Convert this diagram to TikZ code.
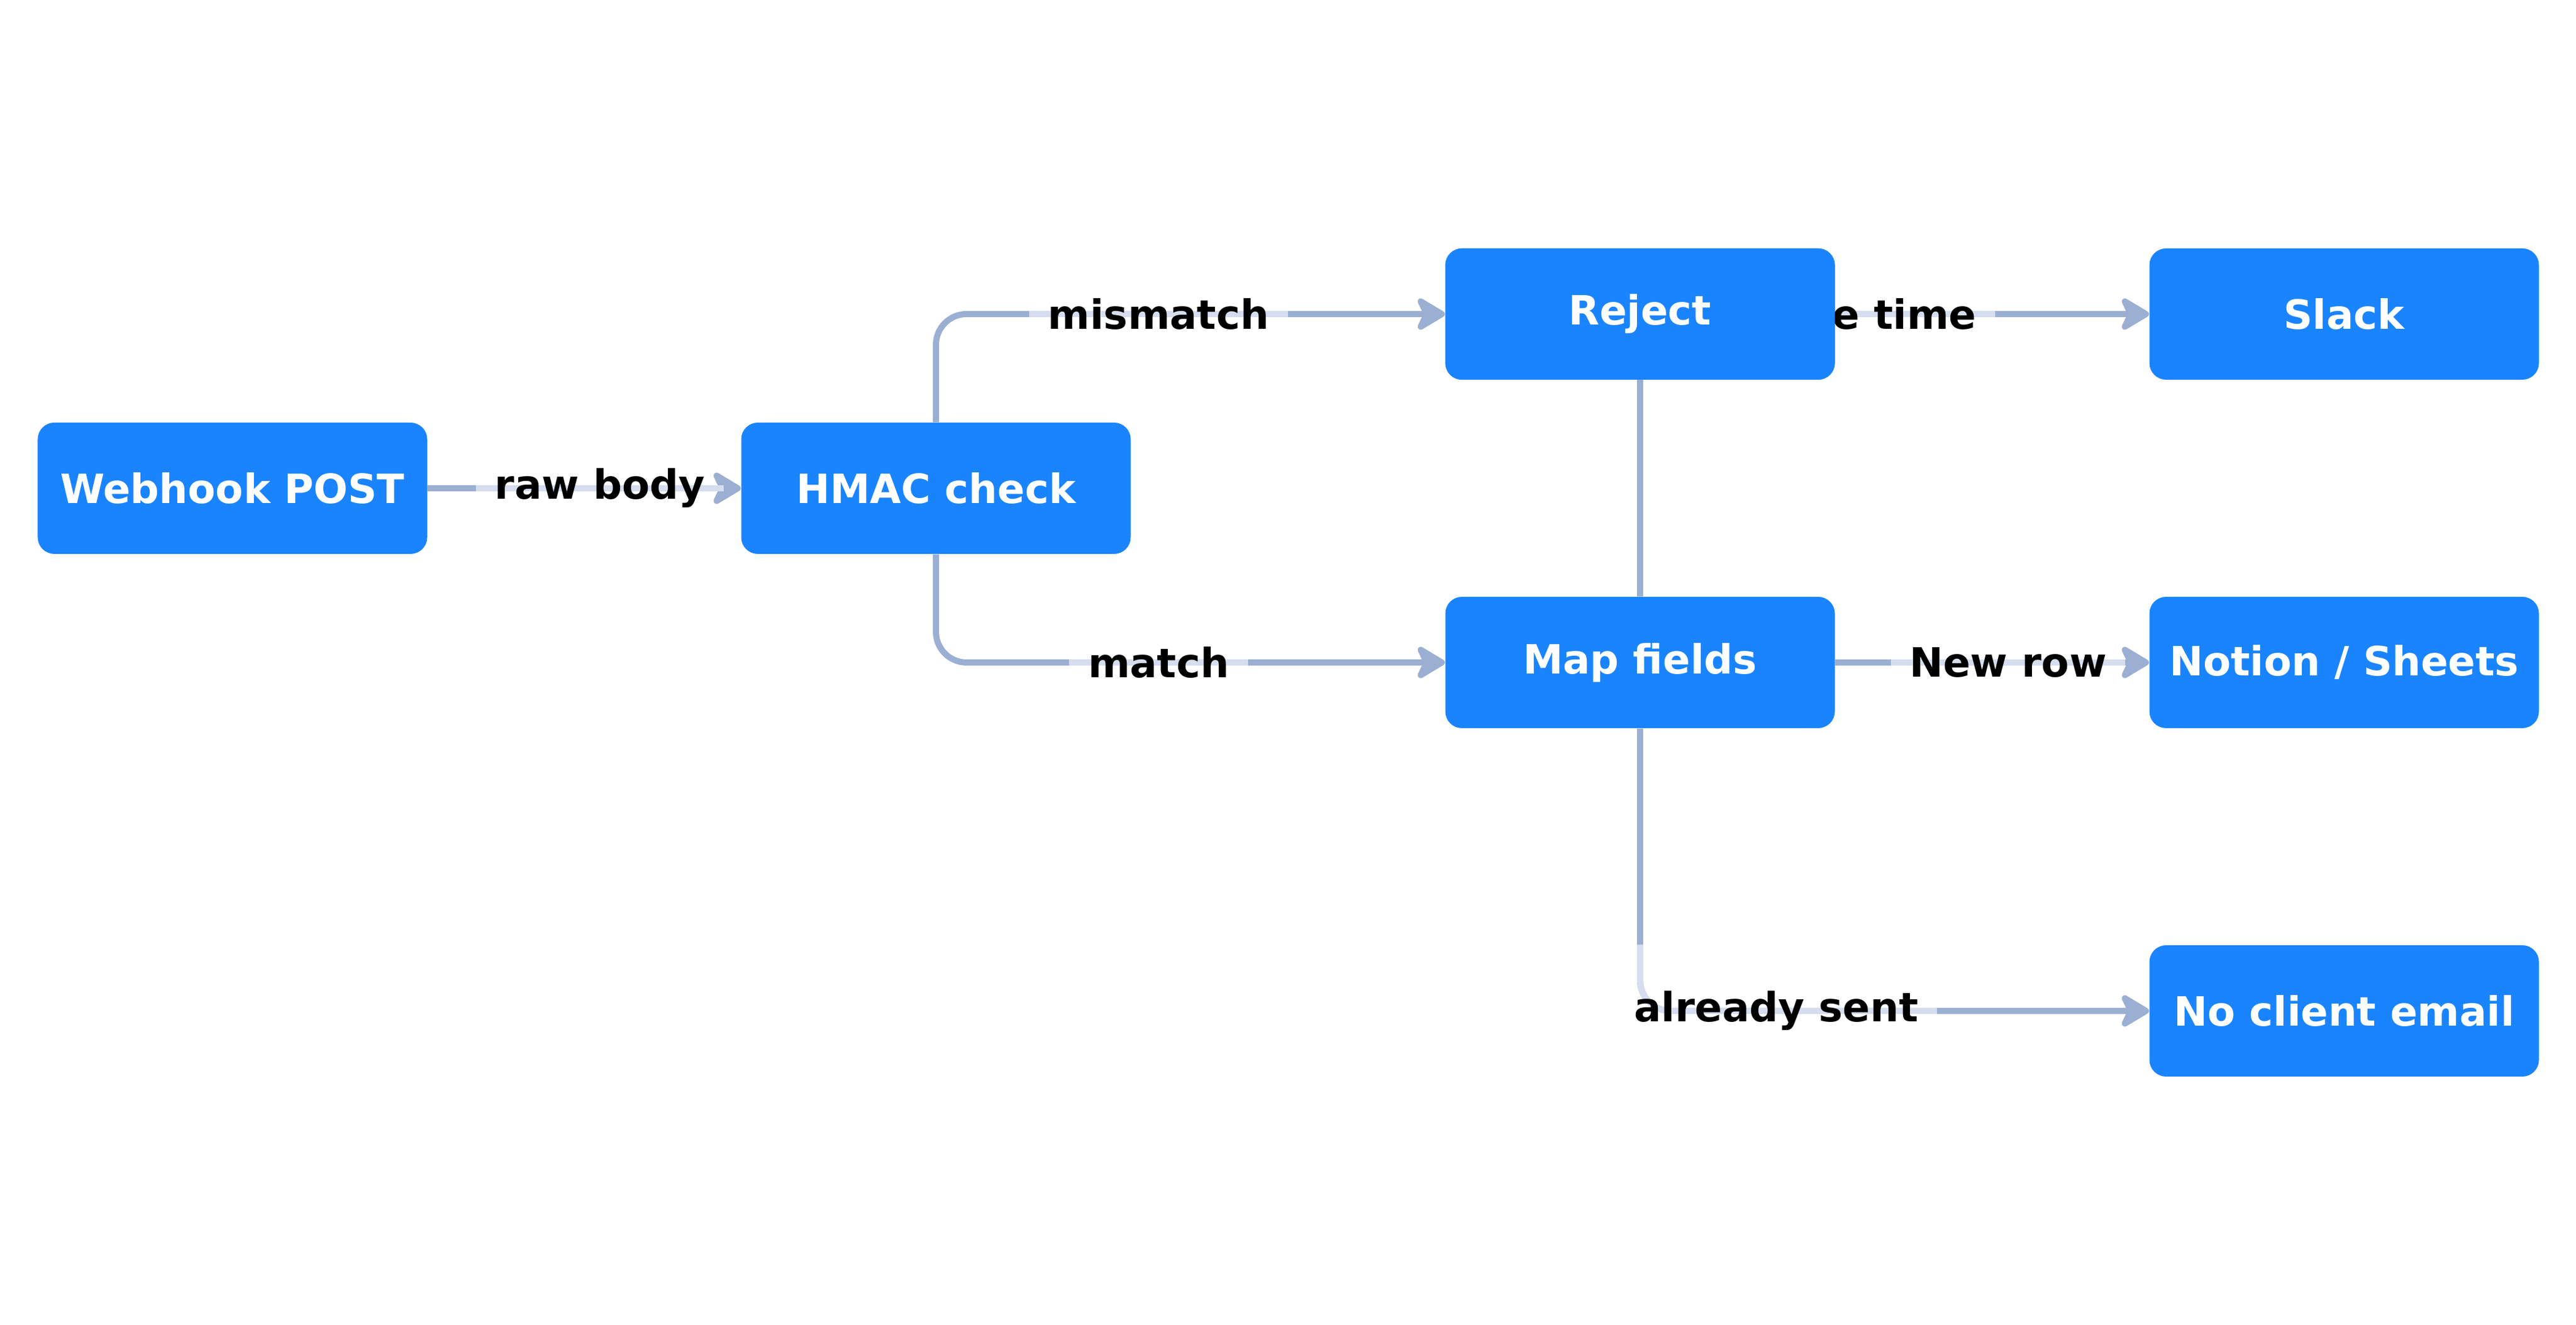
\documentclass[tikz,border=0pt]{standalone}
\usepackage{fontspec}
\setmainfont{DejaVu Sans}
\usetikzlibrary{arrows.meta, positioning, backgrounds}
\definecolor{stepblue}{HTML}{1A84FF}
\definecolor{linkgray}{HTML}{9AAFD2}
\definecolor{linklight}{HTML}{D5DDEE}
\tikzset{
  stepbox/.style={fill=stepblue, rounded corners=0.27cm, minimum width=6.35cm, minimum height=2.14cm,
    text=white, font=\fontsize{18.7}{22}\selectfont\bfseries, inner sep=0pt},
  link/.style={draw=linkgray, line width=0.1cm, rounded corners=0.5cm,
    -{Stealth[length=0.55cm, width=0.65cm, inset=0.15cm, round]}},
  tag/.style={font=\fontsize{18.7}{22}\selectfont\bfseries, inner xsep=0.3cm, inner ysep=0pt},
  tagline/.style={draw=linklight, line width=0.1cm}
}
\begin{document}
\begin{tikzpicture}
\useasboundingbox (0,0) rectangle (42,21.6);

% Steps
\node[stepbox] (post) at (3.79,13.64) {Webhook POST};
\node[stepbox] (hmac) at (15.26,13.64) {HMAC check};
\node[stepbox] (reject) at (26.74,16.48) {Reject};
\node[stepbox] (map) at (26.74,10.80) {Map fields};
\node[stepbox] (slack) at (38.22,16.48) {Slack};
\node[stepbox] (notion) at (38.22,10.80) {Notion / Sheets};
\node[stepbox] (email) at (38.22,5.12) {No client email};

% Links
\begin{scope}[on background layer]
\draw[link] (post) -- (hmac);
\draw[link] (hmac.north) |- (reject.west);
\draw[link] (hmac.south) |- (map.west);
\draw[link] (map.north) |- (slack.west);
\draw[link] (map) -- (notion);
\draw[link] (map.south) |- (email.west);
\end{scope}

% Labels
\node[tag] (tbody) at (9.78,13.64) {\phantom{raw body}};
\node[tag] (tmis) at (18.89,16.48) {\phantom{mismatch}};
\node[tag] (tmatch) at (18.89,10.80) {\phantom{match}};
\node[tag, anchor=east] (tonce) at (32.53,16.48) {\phantom{one time}};
\node[tag] (trow) at (32.74,10.80) {\phantom{New row}};
\node[tag] (tsent) at (28.96,5.12) {\phantom{already sent}};
\begin{scope}[on background layer]
\foreach \t in {tbody,tmis,tmatch,tonce,trow}
  \draw[tagline] (\t.west) -- (\t.east);
\draw[tagline, rounded corners=0.5cm] (map.south |- 0,6.2) |- (tsent.east);
\end{scope}
\node[tag] at (tbody) {raw body};
\node[tag] at (tmis) {mismatch};
\node[tag] at (tmatch) {match};
\node[tag] at (tonce) {one time};
\node[tag] at (trow) {New row};
\node[tag] at (tsent) {already sent};
\node[stepbox] at (reject) {Reject};
\end{tikzpicture}
\end{document}
